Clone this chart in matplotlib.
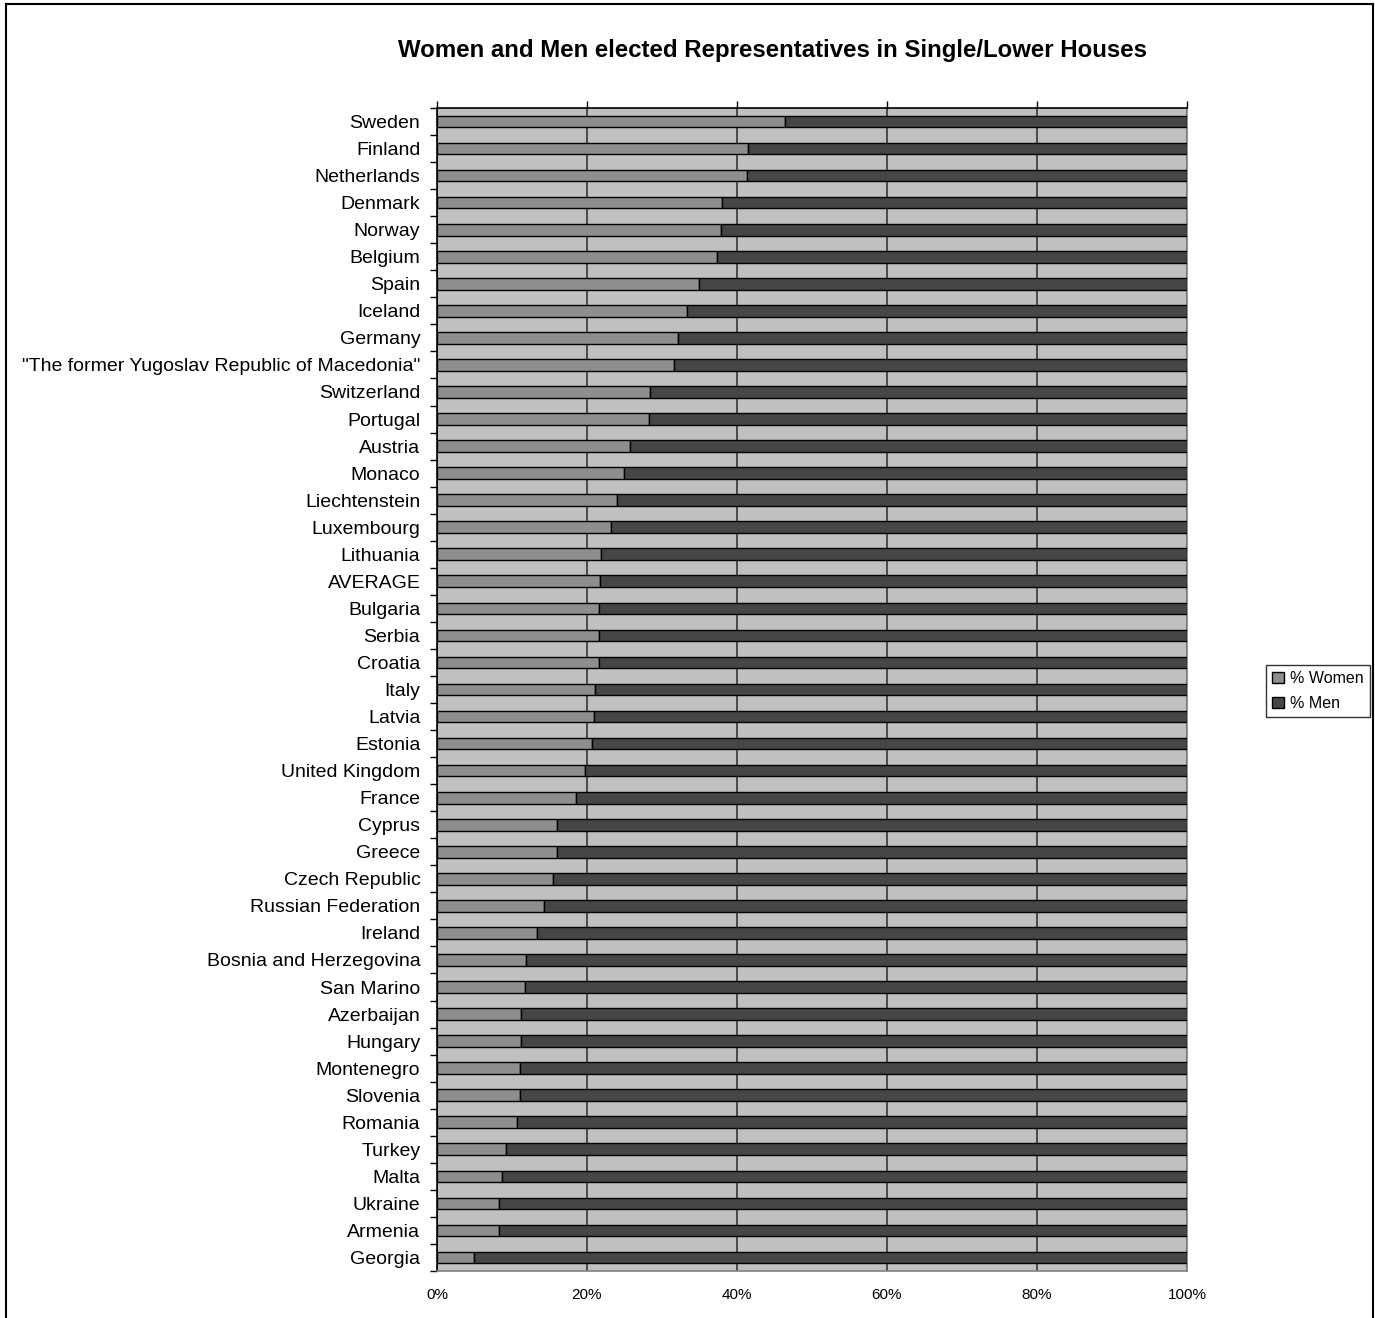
import matplotlib
matplotlib.use("Agg")
import matplotlib.pyplot as plt
import numpy as np
from matplotlib.lines import Line2D

plt.rcParams['font.family'] = ['Liberation Sans', 'DejaVu Sans']

countries = ['Sweden', 'Finland', 'Netherlands', 'Denmark', 'Norway', 'Belgium', 'Spain',
             'Iceland', 'Germany', '"The former Yugoslav Republic of Macedonia"', 'Switzerland',
             'Portugal', 'Austria', 'Monaco', 'Liechtenstein', 'Luxembourg', 'Lithuania',
             'AVERAGE', 'Bulgaria', 'Serbia', 'Croatia', 'Italy', 'Latvia', 'Estonia',
             'United Kingdom', 'France', 'Cyprus', 'Greece', 'Czech Republic',
             'Russian Federation', 'Ireland', 'Bosnia and Herzegovina', 'San Marino',
             'Azerbaijan', 'Hungary', 'Montenegro', 'Slovenia', 'Romania', 'Turkey', 'Malta',
             'Ukraine', 'Armenia', 'Georgia']
women = [46.4, 41.5, 41.3, 38.0, 37.8, 37.3, 34.9, 33.3, 32.1, 31.6, 28.4,
         28.3, 25.7, 24.9, 24.0, 23.2, 21.9, 21.7, 21.6, 21.6, 21.6, 21.0,
         20.9, 20.7, 19.7, 18.5, 16.0, 16.0, 15.5, 14.2, 13.3, 11.8, 11.7,
         11.2, 11.2, 11.0, 11.0, 10.7, 9.2, 8.7, 8.3, 8.3, 4.9]
men = [100 - w for w in women]
x_ticks = [0, 20, 40, 60, 80, 100]

W, H = 1375, 1318
fig = plt.figure(figsize=(W / 100, H / 100), dpi=100)
ax = fig.add_axes([437 / W, 1 - 1271 / H, 750 / W, 1163 / H])
ax.set_facecolor('#C0C0C0')

y = np.arange(len(countries))
bar_h = 0.43
ax.barh(y, women, height=bar_h, color='#8E8E8E', edgecolor='black', linewidth=1.0,
        label='% Women', zorder=3)
ax.barh(y, men, left=women, height=bar_h, color='#464646', edgecolor='black', linewidth=1.0,
        label='% Men', zorder=3)

ax.set_xlim(0, 100)
ax.set_ylim(len(countries) - 0.5, -0.5)
ax.set_xticks(x_ticks)
ax.set_xticklabels([f'{t}%' for t in x_ticks], fontsize=11)
ax.tick_params(axis='x', top=True, bottom=False, labeltop=False, labelbottom=True,
               direction='out', length=5, width=1, color='black', pad=7)
ax.xaxis.grid(True, color='#404040', linewidth=1.3, zorder=1)
ax.set_axisbelow(True)

ax.set_yticks(y)
ax.set_yticklabels(countries, fontsize=14)
ax.set_yticks(np.arange(-0.5, len(countries)), minor=True)
ax.tick_params(axis='y', which='major', length=0, pad=12)
ax.tick_params(axis='y', which='minor', length=5, width=1, color='black', direction='out')

for side in ['right', 'bottom']:
    ax.spines[side].set_color('#808080')
    ax.spines[side].set_linewidth(1.2)
for side in ['left', 'top']:
    ax.spines[side].set_color('black')
    ax.spines[side].set_linewidth(1.2)

fig.text(772 / W, 1 - 50 / H, 'Women and Men elected Representatives in Single/Lower Houses',
         ha='center', va='center', fontsize=17.3, fontweight='bold')

leg = fig.legend(loc='center left', bbox_to_anchor=(1266 / W, 1 - 691 / H),
                 fontsize=11.5, frameon=True, fancybox=False, edgecolor='black',
                 handlelength=0.7, handleheight=0.7, handletextpad=0.4,
                 borderpad=0.4, labelspacing=0.6, borderaxespad=0)
leg.get_frame().set_linewidth(1.0)

# outer chart border (bottom edge falls outside the picture)
for xs, ys in [([5.5, 5.5], [H + 5, 3.5]), ([5.5, 1372.5], [3.5, 3.5]),
               ([1372.5, 1372.5], [3.5, H + 5])]:
    fig.add_artist(Line2D([x / W for x in xs], [1 - v / H for v in ys],
                          color='black', linewidth=1.5, transform=fig.transFigure))

fig.savefig('out.png', dpi=100)
